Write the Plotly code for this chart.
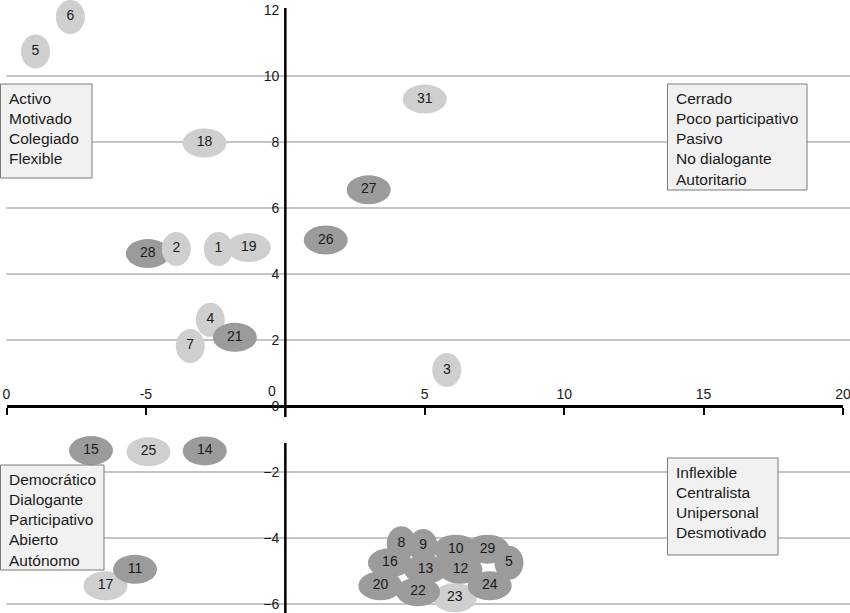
import plotly.graph_objects as go

# ---------------- data (drawing order) ----------------
labels = ["6", "5", "18", "31", "27", "26", "28", "2", "1", "19", "4", "21", "7", "3",
          "15", "25", "14", "17", "11",
          "23", "8", "9", "10", "29", "5", "16", "13", "12", "20", "22", "24"]
x_vals = [-7.71, -8.96, -2.90, 5.00, 2.99, 1.45, -4.93, -3.91, -2.40, -1.31, -2.69, -1.81, -3.41, 5.79,
          -6.97, -4.91, -2.89, -6.45, -5.39,
          6.08, 4.16, 4.94, 6.11, 7.25, 8.02, 3.75, 5.03, 6.28, 3.41, 4.76, 7.33]
y_vals = [11.79, 10.74, 7.97, 9.30, 6.55, 5.03, 4.62, 4.76, 4.76, 4.80, 2.61, 2.08, 1.82, 1.09,
          -1.35, -1.39, -1.36, -5.45, -4.95,
          -5.81, -4.16, -4.24, -4.34, -4.34, -4.75, -4.75, -4.95, -4.95, -5.45, -5.63, -5.45]
tones = ["light", "light", "light", "light", "dark", "dark", "dark", "light", "light", "light",
         "light", "dark", "light", "light",
         "dark", "light", "dark", "light", "dark",
         "light", "dark", "dark", "dark", "dark", "dark", "dark", "dark", "dark", "dark", "dark", "dark"]

x_tickvals = [-10, -5, 5, 10, 15, 20]
x_ticktext = ["0", "-5", "5", "10", "15", "20"]
y_tickvals = [-6, -4, -2, 0, 2, 4, 6, 8, 10, 12]
grid_vals = [10, 8, 6, 4, 2, -2, -4, -6]

box_top_left = ["Activo", "Motivado", "Colegiado", "Flexible"]
box_top_right = ["Cerrado", "Poco participativo", "Pasivo", "No dialogante", "Autoritario"]
box_bottom_left = ["Democrático", "Dialogante", "Participativo", "Abierto", "Autónomo"]
box_bottom_right = ["Inflexible", "Centralista", "Unipersonal", "Desmotivado"]

# ---------------- styling ----------------
W, H = 850, 613
FONT = "Liberation Sans, Arial, sans-serif"
TXT = "#1a1a1a"
COLORS = {"light": "#cfcfcf", "dark": "#9b9b9b"}
PX_X = 27.88   # pixels per x unit
PX_Y = 33.0    # pixels per y unit
ZERO_Y_PX = 406.0
Y_RANGE = [-(H - ZERO_Y_PX) / PX_Y, ZERO_Y_PX / PX_Y]
X_DOMAIN = [6.5 / W, 843 / W]
ORIGIN_X_FRAC = (6.5 + 10 * PX_X) / W

shapes = []
# horizontal grid lines
for g in grid_vals:
    shapes.append(dict(type="line", xref="paper", yref="y", x0=X_DOMAIN[0], x1=1, y0=g, y1=g,
                       line=dict(color="#8a8a8a", width=1.2), layer="below"))
# vertical axis, drawn in two pieces with a break just below the origin
for (ya, yb) in [(12.06, -0.33), (-1.12, Y_RANGE[0])]:
    shapes.append(dict(type="line", xref="x", yref="y", x0=0, x1=0, y0=ya, y1=yb,
                       line=dict(color="black", width=2.5), layer="above"))
# ellipses around each case number
for lab, xv, yv, t in zip(labels, x_vals, y_vals, tones):
    w, h = (29, 34) if len(lab) == 1 else (44, 29)
    shapes.append(dict(type="circle", xref="x", yref="y", xsizemode="pixel", ysizemode="pixel",
                       xanchor=xv, yanchor=yv, x0=-w / 2, x1=w / 2, y0=-h / 2, y1=h / 2,
                       fillcolor=COLORS[t], line=dict(width=0), layer="below"))

# description boxes (pixel boxes converted to paper coords)
boxes = [
    (box_top_left, 0, 84, 92, 178),
    (box_top_right, 667, 84, 807, 190),
    (box_bottom_left, 0, 465, 104, 570),
    (box_bottom_right, 667, 458, 778, 555),
]
annotations = []
for lines, l, t, r, b in boxes:
    shapes.append(dict(type="rect", xref="paper", yref="paper",
                       x0=(l + 0.5) / W, x1=r / W, y0=1 - b / H, y1=1 - t / H,
                       fillcolor="#f1f1f1", line=dict(color="#7a7a7a", width=1), layer="above"))
    annotations.append(dict(xref="paper", yref="paper", x=(l + 7) / W, y=1 - (t + 4) / H,
                            xanchor="left", yanchor="top", align="left", showarrow=False,
                            text="<br>".join(lines), font=dict(family=FONT, size=15.5, color=TXT)))

# x-axis "0" label next to the origin
annotations.append(dict(xref="x", yref="y", x=0, y=0, xshift=-13, yshift=15, text="0",
                        showarrow=False, font=dict(family=FONT, size=14, color=TXT)))

fig = go.Figure()
fig.add_trace(go.Scatter(x=x_vals, y=y_vals, mode="text", text=labels,
                         textfont=dict(family=FONT, size=14, color=TXT),
                         cliponaxis=False, hoverinfo="skip", showlegend=False))

fig.update_layout(
    width=W, height=H, margin=dict(l=0, r=0, t=0, b=0, autoexpand=False),
    paper_bgcolor="white", plot_bgcolor="white",
    font=dict(family=FONT, size=14, color=TXT),
    shapes=shapes, annotations=annotations, showlegend=False,
    xaxis=dict(domain=X_DOMAIN, range=[-10, 20], showgrid=False, zeroline=False,
               showline=True, linecolor="black", linewidth=2.5,
               ticks="outside", ticklen=7, tickwidth=1.5, tickcolor="black",
               tickvals=x_tickvals, ticktext=x_ticktext, ticklabelposition="inside",
               ticklabeloverflow="allow", ticklabelstandoff=3, automargin=False,
               tickfont=dict(family=FONT, size=14, color=TXT),
               anchor="free", position=(H - ZERO_Y_PX) / H),
    yaxis=dict(domain=[0, 1], range=Y_RANGE, showgrid=False, zeroline=False, showline=False,
               ticks="", tickvals=y_tickvals, ticklabelstandoff=6, automargin=False,
               tickfont=dict(family=FONT, size=14, color=TXT),
               anchor="free", position=ORIGIN_X_FRAC),
)

fig.write_html("out.html", config={"displayModeBar": False},
               post_script="document.body.style.margin='0px';")
